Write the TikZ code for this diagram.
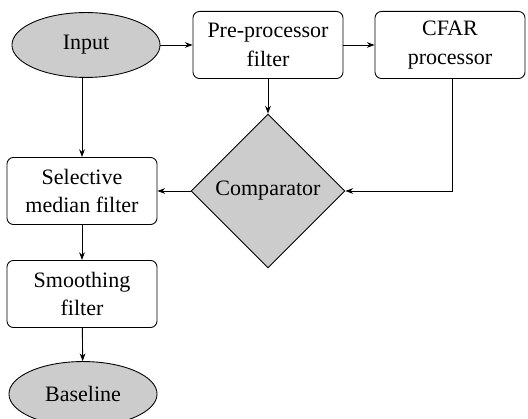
\documentclass[tikz,border=0pt]{standalone}
\usepackage{fontspec}
\setmainfont{Liberation Serif}
\usetikzlibrary{shapes.geometric,arrows.meta}
\begin{document}
\begin{tikzpicture}[x=0.4545pt,y=-0.4545pt,
  font=\fontsize{10}{13}\selectfont,
  box/.style={draw,rounded corners=3pt,minimum width=68.2pt,minimum height=30.5pt,align=center,inner sep=2pt},
  term/.style={draw,ellipse,fill=gray!40,minimum width=67.3pt,minimum height=29.5pt,inner sep=1pt},
  decide/.style={draw,diamond,fill=gray!40,minimum width=70pt,minimum height=70pt,inner sep=0pt},
  arr/.style={-{Stealth[length=3.5pt,width=2.6pt]},line width=0.4pt}]
\useasboundingbox (0,0) rectangle (528,419);
\node[term] (input) at (86,45) {Input};
\node[box] (pre) at (268,45) {Pre-processor\\filter};
\node[box] (cfar) at (450,45) {CFAR\\processor};
\node[decide] (comp) at (268,191) {Comparator};
\node[box] (sel) at (82,191) {Selective\\median filter};
\node[box] (smooth) at (82,294) {Smoothing\\filter};
\node[term] (base) at (83,394) {Baseline};
\draw[arr] (input) -- (pre);
\draw[arr] (pre) -- (cfar);
\draw[arr] (pre) -- (comp);
\draw[arr] (cfar.south -| 452,0) |- (comp.east);
\draw[arr] (comp) -- (sel);
\draw[arr] (input.south -| sel.north) -- (sel.north);
\draw[arr] (sel) -- (smooth);
\draw[arr] (smooth) -- (base);
\end{tikzpicture}
\end{document}
